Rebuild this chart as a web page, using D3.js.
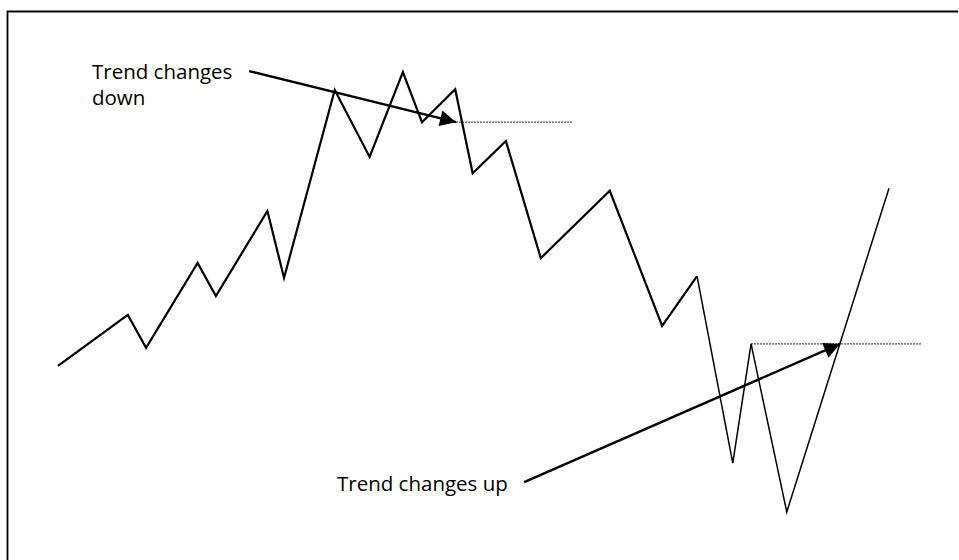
<!DOCTYPE html>
<html>
<head>
<meta charset="utf-8">
<script src="https://cdn.jsdelivr.net/npm/d3@7"></script>
<style>
    html, body { margin: 0; padding: 0; background: #fff; }
    svg { display: block; }
</style>
</head>
<body>
<div id="chart"></div>
<script>
// Price path: time (0-100) and price (0-100) of each swing point.
var swingTimes = [0, 8.4, 10.6, 16.8, 19.0, 25.2, 27.2, 33.3, 37.5, 41.5, 43.8, 47.8, 49.9, 53.9, 58.1, 66.4, 72.7, 76.9, 81.2, 83.4, 87.7, 100];
var swingPrices = [33.2, 44.8, 37.3, 56.6, 49.1, 68.4, 53.2, 95.9, 80.7, 100, 88.6, 96.1, 77.0, 84.3, 57.7, 73.0, 42.3, 53.6, 11.1, 38.2, 0, 73.6];

// Dotted levels where the trend breaks: [start time, end time, price].
var levelDown = [47.9, 61.9, 88.6];
var levelUp = [83.4, 103.9, 38.2];

// Annotation arrows: [from time, from price, to time, to price].
var arrowDown = [23.0, 100.2, 47.9, 88.6];
var arrowUp = [56.1, 6.8, 94.1, 38.2];

var labelDown = ['Trend changes', 'down'];
var labelUp = 'Trend changes up';

var _width = 959;
var _height = 560;

var x = d3.scaleLinear().domain([0, 100]).range([58, 889]);
var y = d3.scaleLinear().domain([0, 100]).range([512, 72]);

var svg = d3.select('#chart').append('svg')
    .attr('width', _width)
    .attr('height', _height);

// Arrowhead marker.
svg.append('defs').append('marker')
    .attr('id', 'head')
    .attr('viewBox', '0 0 10 10')
    .attr('refX', 10)
    .attr('refY', 5)
    .attr('markerUnits', 'userSpaceOnUse')
    .attr('markerWidth', 24)
    .attr('markerHeight', 16)
    .attr('orient', 'auto')
    .append('path')
    .attr('d', 'M0,0 L10,5 L0,10 Z')
    .attr('fill', '#000');

// Frame (top and left edges of the scanned box).
svg.append('path')
    .attr('d', 'M958,11.5 H7.5 V560')
    .attr('fill', 'none')
    .attr('stroke', '#000')
    .attr('stroke-width', 1.8);

var pts = swingTimes.map((t, i) => [t, swingPrices[i]]);
var line = d3.line().x(d => x(d[0])).y(d => y(d[1]));

// Dotted levels.
[levelDown, levelUp].forEach(l => {
    svg.append('line')
        .attr('x1', x(l[0])).attr('x2', x(l[1]))
        .attr('y1', y(l[2])).attr('y2', y(l[2]))
        .attr('stroke', '#222')
        .attr('stroke-width', 1)
        .attr('stroke-dasharray', '2,1');
});

// Zig-zag price, heavier on the left part, finer on the right.
svg.append('path')
    .datum(pts.slice(0, 18))
    .attr('d', line)
    .attr('fill', 'none')
    .attr('stroke', '#000')
    .attr('stroke-width', 2.2)
    .attr('stroke-linejoin', 'miter');

svg.append('path')
    .datum(pts.slice(17))
    .attr('d', line)
    .attr('fill', 'none')
    .attr('stroke', '#000')
    .attr('stroke-width', 1.5)
    .attr('stroke-linejoin', 'miter');

// Arrows.
[arrowDown, arrowUp].forEach(a => {
    svg.append('line')
        .attr('x1', x(a[0])).attr('y1', y(a[1]))
        .attr('x2', x(a[2])).attr('y2', y(a[3]))
        .attr('stroke', '#000')
        .attr('stroke-width', 2.4)
        .attr('marker-end', 'url(#head)');
});

// Labels.
var font = '"Open Sans", "Noto Sans", sans-serif';

var tDown = svg.append('text')
    .attr('x', 92)
    .attr('y', 79)
    .attr('font-family', font)
    .attr('font-size', 20.5)
    .attr('fill', '#000');
tDown.selectAll('tspan')
    .data(labelDown)
    .enter().append('tspan')
    .attr('x', 92)
    .attr('dy', (d, i) => i ? 26 : 0)
    .text(d => d);

svg.append('text')
    .attr('x', 337)
    .attr('y', 491)
    .attr('font-family', font)
    .attr('font-size', 20.5)
    .attr('fill', '#000')
    .text(labelUp);
</script>
</body>
</html>
